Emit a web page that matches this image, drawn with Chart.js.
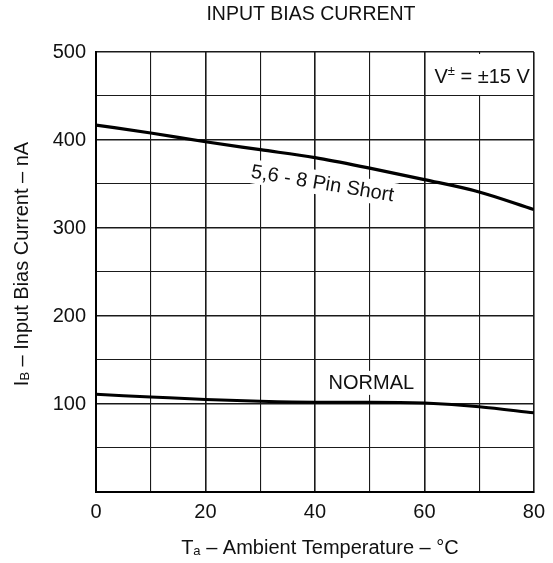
<!DOCTYPE html>
<html>
<head>
<meta charset="utf-8">
<script src="https://cdn.jsdelivr.net/npm/chart.js@4.4.1/dist/chart.umd.min.js"></script>
<style>
  html, body { margin: 0; padding: 0; background: #fff; }
  #wrap { width: 553px; height: 563px; }
</style>
</head>
<body>
<div id="wrap"><canvas id="chart" width="553" height="563"></canvas></div>
<script>
// values
const temps = [0, 10, 20, 30, 40, 50, 60, 70, 80];
const pinShort = [417, 408, 398, 389, 380, 368, 355, 341, 321];
const normal = [111, 108, 105, 103, 102, 102, 101, 97, 90];
const xTickLabels = [0, 20, 40, 60, 80];
const yTickLabels = [100, 200, 300, 400, 500];

const FONT = '"Liberation Sans", Arial, sans-serif';
const INK = '#111';

function pts(ys) {
    return temps.map((t, i) => ({ x: t, y: ys[i] }));
}

// draw text made of pieces (for subscripts), centred on cx, baseline at by
function drawParts(ctx, parts, cx, by) {
    let total = 0;
    parts.forEach(p => {
        ctx.font = p.size + 'px ' + FONT;
        p.w = ctx.measureText(p.t).width;
        total += p.w;
    });
    let x = cx - total / 2;
    ctx.textAlign = 'left';
    ctx.textBaseline = 'alphabetic';
    parts.forEach(p => {
        ctx.font = p.size + 'px ' + FONT;
        ctx.fillText(p.t, x, by + (p.dy || 0));
        x += p.w;
    });
}

function boxedText(ctx, text, x, y, angle, size, align) {
    ctx.save();
    ctx.translate(x, y);
    ctx.rotate(angle * Math.PI / 180);
    ctx.font = size + 'px ' + FONT;
    let w = ctx.measureText(text).width;
    let left = align === 'right' ? -w : -w / 2;
    ctx.fillStyle = '#fff';
    ctx.fillRect(left - 3, -size * 0.6, w + 6, size * 1.2);
    ctx.fillStyle = INK;
    ctx.textAlign = 'left';
    ctx.textBaseline = 'middle';
    ctx.fillText(text, left, 1);
    ctx.restore();
}

const labels = {
    id: 'labels',
    afterDatasetsDraw(chart) {
        const ctx = chart.ctx;
        const xs = chart.scales.x, ys = chart.scales.y;
        const a = chart.chartArea;
        ctx.save();
        ctx.fillStyle = INK;

        // V supply box in the top right cell
        let bx = xs.getPixelForValue(60), by = ys.getPixelForValue(450);
        ctx.fillStyle = '#fff';
        ctx.fillRect(bx + 2, a.top + 2, a.right - bx - 4, by - a.top - 3);
        ctx.fillStyle = INK;
        let vx = a.right - 4, vy = ys.getPixelForValue(472);
        ctx.font = '20px ' + FONT;
        let w1 = ctx.measureText(' = \u00b115 V').width;
        ctx.textAlign = 'right';
        ctx.textBaseline = 'middle';
        ctx.fillText(' = \u00b115 V', vx, vy + 1);
        ctx.font = '13px ' + FONT;
        let w2 = ctx.measureText('\u00b1').width;
        ctx.fillText('\u00b1', vx - w1, vy - 5);
        ctx.font = '20px ' + FONT;
        ctx.fillText('V', vx - w1 - w2, vy + 1);

        boxedText(ctx, '5,6 - 8 Pin Short', xs.getPixelForValue(41.4), ys.getPixelForValue(351), 9.5, 20);
        boxedText(ctx, 'NORMAL', xs.getPixelForValue(50.3), ys.getPixelForValue(124), 0, 20);
        ctx.restore();
    },
    afterDraw(chart) {
        const ctx = chart.ctx;
        const a = chart.chartArea;
        ctx.save();
        ctx.fillStyle = INK;
        ctx.font = '19.5px ' + FONT;
        ctx.textAlign = 'center';
        ctx.textBaseline = 'alphabetic';
        ctx.fillText('INPUT BIAS CURRENT', (a.left + a.right) / 2 - 4, 20);

        drawParts(ctx, [
            { t: 'T', size: 20 },
            { t: 'a', size: 13, dy: 1 },
            { t: ' \u2013 Ambient Temperature \u2013 \u00b0C', size: 20 }
        ], (a.left + a.right) / 2 + 5, a.bottom + 62);

        ctx.translate(28, (a.top + a.bottom) / 2 - 8);
        ctx.rotate(-Math.PI / 2);
        drawParts(ctx, [
            { t: 'I', size: 20 },
            { t: 'B', size: 13, dy: 1 },
            { t: ' \u2013 Input Bias Current \u2013 nA', size: 20 }
        ], 0, 0);
        ctx.restore();
    }
};

const gridWidth = (major) => (c) => (c.tick && c.tick.value % major === 0 ? 1.6 : 1.1);

new Chart(document.getElementById('chart'), {
    type: 'line',
    data: {
        datasets: [
            { label: '5,6 - 8 Pin Short', data: pts(pinShort), borderColor: '#000', borderWidth: 3.2,
              pointRadius: 0, cubicInterpolationMode: 'monotone', fill: false },
            { label: 'NORMAL', data: pts(normal), borderColor: '#000', borderWidth: 3,
              pointRadius: 0, cubicInterpolationMode: 'monotone', fill: false }
        ]
    },
    options: {
        responsive: false,
        animation: false,
        layout: { padding: { top: 52, right: 14, left: 0, bottom: 0 } },
        plugins: { legend: { display: false }, tooltip: { enabled: false }, title: { display: false } },
        scales: {
            x: {
                type: 'linear', min: 0, max: 80,
                afterFit: s => { s.height = 71; },
                ticks: {
                    stepSize: 10, padding: 8, color: INK, font: { family: FONT, size: 20 },
                    maxRotation: 0, autoSkip: false,
                    callback: v => (xTickLabels.includes(v) ? String(v) : '')
                },
                grid: { color: '#1a1a1a', lineWidth: gridWidth(20), drawTicks: false },
                border: { display: true, color: '#000', width: 2 }
            },
            y: {
                min: 0, max: 500,
                afterFit: s => { s.width = 96; },
                ticks: {
                    stepSize: 50, padding: 10, color: INK, font: { family: FONT, size: 20 },
                    autoSkip: false,
                    callback: v => (yTickLabels.includes(v) ? String(v) : '')
                },
                grid: { color: '#1a1a1a', lineWidth: gridWidth(100), drawTicks: false },
                border: { display: true, color: '#000', width: 2 }
            }
        }
    },
    plugins: [labels]
});
</script>
</body>
</html>
